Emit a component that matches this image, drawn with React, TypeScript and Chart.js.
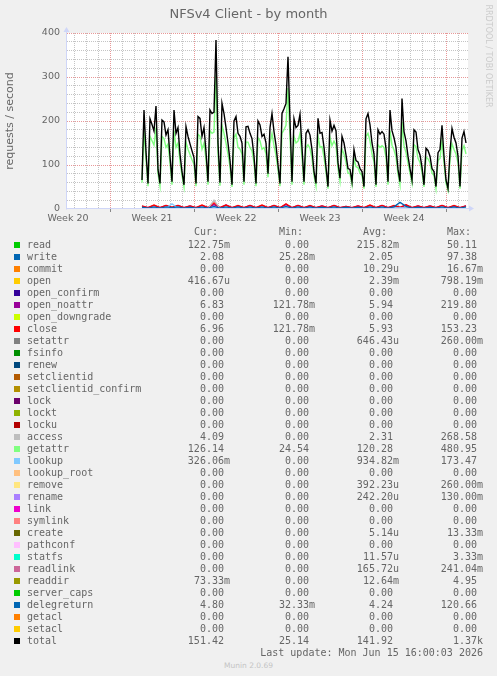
import React, { useEffect, useRef } from 'react';
import { Chart, registerables } from 'chart.js';

Chart.register(...registerables);

// ---------- text ----------
const TITLE = 'NFSv4 Client - by month';
const Y_TITLE = 'requests / second';
const WATERMARK = 'RRDTOOL / TOBI OETIKER';
const LAST_UPDATE = 'Last update: Mon Jun 15 16:00:03 2026';
const VERSION = 'Munin 2.0.69';

// ---------- time axis (hours from the left edge of the month window) ----------
const X_MAX_HOURS = 802;
const WEEK_LABELS = ['Week 20', 'Week 21', 'Week 22', 'Week 23', 'Week 24'];
const WEEK_LABEL_HOURS = [2, 170, 338, 506, 674];
const WEEK_START_HOURS = [86, 254, 422, 590, 758];
const FIRST_DAY_HOUR = 14;

// ---------- y axis ----------
const Y_MAX = 400;
const Y_STEP = 20;
const Y_LABEL_STEP = 100;

// ---------- series (4-hour samples) ----------
const MAIN_START_HOUR = 150;
const MAIN_STEP_HOURS = 4;
const total = [
  66, 225, 130, 58, 205, 192, 177, 234, 90, 58,
  202, 198, 168, 180, 120, 62, 225, 172, 185, 125,
  85, 55, 187, 165, 148, 132, 117, 58, 210, 206,
  165, 185, 130, 62, 225, 217, 220, 384, 150, 60,
  240, 217, 185, 150, 110, 55, 200, 210, 172, 165,
  150, 62, 187, 188, 172, 160, 120, 58, 200, 191,
  165, 170, 150, 80, 185, 217, 176, 145, 100, 58,
  217, 228, 240, 346, 200, 62, 205, 185, 190, 215,
  140, 62, 172, 180, 168, 135, 85, 58, 206, 172,
  174, 140, 95, 51, 202, 177, 190, 178, 105, 70,
  165, 150, 123, 92, 90, 62, 135, 110, 107, 92,
  85, 51, 205, 217, 191, 150, 125, 55, 180, 170,
  176, 170, 138, 62, 225, 178, 162, 140, 90, 62,
  251, 176, 155, 120, 92, 66, 180, 175, 135, 123,
  95, 55, 138, 133, 120, 92, 85, 51, 128, 135,
  190, 120, 66, 47, 130, 183, 163, 150, 120, 51,
  161, 176, 150,
];
const getattr = [
  60, 178, 112, 52, 165, 155, 145, 185, 80, 52,
  165, 160, 140, 148, 105, 55, 178, 140, 150, 108,
  76, 50, 152, 136, 124, 112, 102, 52, 170, 165,
  136, 150, 112, 55, 178, 172, 175, 305, 125, 53,
  190, 172, 150, 125, 96, 50, 162, 170, 140, 136,
  125, 55, 152, 152, 140, 132, 105, 52, 162, 155,
  136, 140, 125, 72, 150, 172, 144, 122, 88, 52,
  172, 180, 190, 275, 162, 55, 165, 150, 154, 172,
  118, 55, 140, 146, 138, 115, 76, 52, 166, 140,
  142, 118, 84, 46, 163, 144, 154, 145, 92, 63,
  136, 125, 106, 82, 80, 55, 115, 96, 94, 82,
  76, 46, 165, 172, 155, 125, 108, 50, 146, 140,
  144, 140, 118, 55, 178, 145, 134, 118, 80, 55,
  198, 144, 128, 105, 82, 59, 146, 142, 115, 106,
  84, 50, 118, 114, 105, 82, 76, 46, 110, 115,
  154, 105, 59, 42, 112, 148, 135, 125, 105, 46,
  133, 144, 125,
];

// ---------- small series (12-hour samples) ----------
const SMALL_START_HOUR = 150;
const SMALL_STEP_HOURS = 12;
const close = [7, 3, 9, 3, 8, 4, 8, 3, 7, 3, 9, 3, 14, 3, 9, 3, 8, 3, 8, 3, 9, 3, 8, 3, 12, 3, 8, 3, 8, 3, 7, 3, 8, 3, 6, 3, 7, 3, 9, 3, 8, 3, 8, 4, 10, 3, 7, 3, 7, 3, 8, 3, 8, 3, 7];
const openNoattr = [6, 3, 8, 3, 8, 3, 8, 3, 7, 3, 8, 3, 10, 3, 9, 3, 7, 3, 8, 3, 8, 3, 8, 3, 10, 3, 8, 3, 7, 3, 7, 3, 8, 3, 6, 3, 7, 3, 8, 3, 8, 3, 7, 3, 9, 3, 7, 3, 7, 3, 8, 3, 7, 3, 7];
const delegreturn = [4, 2, 5, 2, 5, 3, 5, 2, 4, 2, 5, 2, 6, 2, 5, 2, 5, 2, 5, 2, 5, 2, 5, 2, 6, 2, 5, 2, 5, 2, 4, 2, 5, 2, 4, 2, 4, 2, 5, 2, 5, 2, 5, 15, 6, 2, 4, 2, 4, 2, 5, 2, 5, 2, 5];
const write = [2, 1, 3, 1, 2, 1, 3, 1, 2, 1, 3, 1, 3, 1, 2, 1, 2, 1, 3, 1, 2, 1, 2, 1, 3, 1, 2, 1, 2, 1, 2, 1, 2, 1, 2, 1, 2, 1, 3, 1, 2, 1, 2, 1, 3, 1, 2, 1, 2, 1, 2, 1, 2, 1, 2];
const access = [2, 1, 3, 1, 3, 1, 3, 1, 3, 1, 3, 1, 20, 1, 3, 1, 3, 1, 3, 1, 3, 1, 3, 1, 4, 1, 3, 1, 3, 1, 3, 1, 3, 1, 2, 1, 3, 1, 3, 1, 3, 1, 3, 1, 3, 1, 3, 1, 3, 1, 3, 1, 3, 1, 3];
const lookup = [1, 0.3, 1.5, 0.3, 1.5, 12, 1.5, 0.3, 1.5, 0.3, 1.5, 0.3, 4, 0.3, 1.5, 0.3, 1.5, 0.3, 1.5, 0.3, 1.5, 0.3, 1.5, 0.3, 2, 0.3, 1.5, 0.3, 1.5, 0.3, 1.5, 0.3, 1.5, 0.3, 1.5, 0.3, 1.5, 0.3, 1.5, 0.3, 1.5, 0.3, 1.5, 3, 1.5, 0.3, 1.5, 0.3, 1.5, 0.3, 1.5, 0.3, 1.5, 0.3, 1.5];

// ---------- legend ----------
const legendNames = ['read', 'write', 'commit', 'open', 'open_confirm', 'open_noattr', 'open_downgrade', 'close', 'setattr', 'fsinfo', 'renew', 'setclientid', 'setclientid_confirm', 'lock', 'lockt', 'locku', 'access', 'getattr', 'lookup', 'lookup_root', 'remove', 'rename', 'link', 'symlink', 'create', 'pathconf', 'statfs', 'readlink', 'readdir', 'server_caps', 'delegreturn', 'getacl', 'setacl', 'total'];
const legendColors = ['#00cc00', '#0066b3', '#ff8000', '#ffcc00', '#330099', '#990099', '#ccff00', '#ff0000', '#808080', '#008f00', '#00487d', '#b35a00', '#b38f00', '#6b006b', '#8fb300', '#b30000', '#bebebe', '#80ff80', '#80c9ff', '#ffc080', '#ffe680', '#aa80ff', '#ee00cc', '#ff8080', '#666600', '#ffbfff', '#00ffcc', '#cc6699', '#999900', '#00cc00', '#0066b3', '#ff8000', '#ffcc00', '#000000'];
const legendCur = ['122.75m', '2.08', '0.00', '416.67u', '0.00', '6.83', '0.00', '6.96', '0.00', '0.00', '0.00', '0.00', '0.00', '0.00', '0.00', '0.00', '4.09', '126.14', '326.06m', '0.00', '0.00', '0.00', '0.00', '0.00', '0.00', '0.00', '0.00', '0.00', '73.33m', '0.00', '4.80', '0.00', '0.00', '151.42'];
const legendMin = ['0.00', '25.28m', '0.00', '0.00', '0.00', '121.78m', '0.00', '121.78m', '0.00', '0.00', '0.00', '0.00', '0.00', '0.00', '0.00', '0.00', '0.00', '24.54', '0.00', '0.00', '0.00', '0.00', '0.00', '0.00', '0.00', '0.00', '0.00', '0.00', '0.00', '0.00', '32.33m', '0.00', '0.00', '25.14'];
const legendAvg = ['215.82m', '2.05', '10.29u', '2.39m', '0.00', '5.94', '0.00', '5.93', '646.43u', '0.00', '0.00', '0.00', '0.00', '0.00', '0.00', '0.00', '2.31', '120.28', '934.82m', '0.00', '392.23u', '242.20u', '0.00', '0.00', '5.14u', '0.00', '11.57u', '165.72u', '12.64m', '0.00', '4.24', '0.00', '0.00', '141.92'];
const legendMax = ['50.11', '97.38', '16.67m', '798.19m', '0.00', '219.80', '0.00', '153.23', '260.00m', '0.00', '0.00', '0.00', '0.00', '0.00', '0.00', '0.00', '268.58', '480.95', '173.47', '0.00', '260.00m', '130.00m', '0.00', '0.00', '13.33m', '0.00', '3.33m', '241.04m', '4.95', '0.00', '120.66', '0.00', '0.00', '1.37k'];
const legendHeaders = ['Cur:', 'Min:', 'Avg:', 'Max:'];

// ---------- styling ----------
const BG = '#f0f0f0';
const FONT_COLOR = '#666666';
const AXIS_COLOR = '#cfd6f8';
const GRID_MINOR = '#c4c4c4';
const GRID_MAJOR = '#e89898';
const W = 497;
const H = 676;
const CANVAS_H = 230;

const pts = (vals: number[], start: number, step: number) => vals.map((v, i) => ({ x: start + i * step, y: v }));

const colorOf = (name: string) => legendColors[legendNames.indexOf(name)];

const plotDecor = {
  id: 'plotDecor',
  beforeDraw(chart: any) {
    const { ctx, chartArea } = chart;
    ctx.save();
    ctx.fillStyle = '#ffffff';
    ctx.fillRect(chartArea.left, chartArea.top, chartArea.right - chartArea.left, chartArea.bottom - chartArea.top);
    ctx.restore();
  },
  afterDraw(chart: any) {
    const { ctx, chartArea } = chart;
    const { left, right, top, bottom } = chartArea;
    ctx.save();
    ctx.strokeStyle = AXIS_COLOR;
    ctx.fillStyle = AXIS_COLOR;
    ctx.lineWidth = 1;
    ctx.beginPath();
    ctx.moveTo(left - 0.5, bottom + 0.5);
    ctx.lineTo(left - 0.5, top - 2);
    ctx.moveTo(left - 1, bottom - 0.5);
    ctx.lineTo(right + 2, bottom - 0.5);
    ctx.stroke();
    ctx.beginPath();
    ctx.moveTo(left - 0.5, top - 6);
    ctx.lineTo(left - 3.5, top - 1);
    ctx.lineTo(left + 2.5, top - 1);
    ctx.closePath();
    ctx.fill();
    ctx.beginPath();
    ctx.moveTo(right + 6, bottom - 0.5);
    ctx.lineTo(right + 1, bottom - 3.5);
    ctx.lineTo(right + 1, bottom + 2.5);
    ctx.closePath();
    ctx.fill();
    ctx.restore();
  },
};

function buildXTicks() {
  const vals: number[] = [];
  for (let h = FIRST_DAY_HOUR; h < X_MAX_HOURS; h += 24) vals.push(h);
  WEEK_LABEL_HOURS.forEach((h) => vals.push(h));
  return vals.sort((a, b) => a - b).map((v) => ({ value: v }));
}

const fmtVal = (v: string) => (/[a-zA-Z]$/.test(v) ? v : v + ' ');

export default function App() {
  const canvasRef = useRef<HTMLCanvasElement>(null);

  useEffect(() => {
    document.body.style.margin = '0';
    document.body.style.background = BG;
    const canvas = canvasRef.current;
    if (!canvas) return;

    const line = (label: string, data: any[], color: string, width: number) => ({
      label,
      data,
      borderColor: color,
      backgroundColor: color,
      borderWidth: width,
      pointRadius: 0,
      tension: 0,
      fill: false,
    });

    // munin draws in legend order (later on top); chart.js draws index 0 on top
    const drawOrder = [
      line('write', pts(write, SMALL_START_HOUR, SMALL_STEP_HOURS), colorOf('write'), 1.3),
      line('open_noattr', pts(openNoattr, SMALL_START_HOUR, SMALL_STEP_HOURS), colorOf('open_noattr'), 1.3),
      line('close', pts(close, SMALL_START_HOUR, SMALL_STEP_HOURS), colorOf('close'), 1.3),
      line('access', pts(access, SMALL_START_HOUR, SMALL_STEP_HOURS), colorOf('access'), 1.3),
      line('getattr', pts(getattr, MAIN_START_HOUR, MAIN_STEP_HOURS), colorOf('getattr'), 1.4),
      line('lookup', pts(lookup, SMALL_START_HOUR, SMALL_STEP_HOURS), colorOf('lookup'), 1.3),
      line('delegreturn', pts(delegreturn, SMALL_START_HOUR, SMALL_STEP_HOURS), colorOf('delegreturn'), 1.3),
      line('total', pts(total, MAIN_START_HOUR, MAIN_STEP_HOURS), colorOf('total'), 1.4),
    ];
    const datasets = drawOrder.slice().reverse();

    const tickFont = { family: "'DejaVu Sans', sans-serif", size: 9.5 };

    const chart = new Chart(canvas, {
      type: 'line',
      data: { datasets },
      plugins: [plotDecor],
      options: {
        animation: false,
        responsive: false,
        devicePixelRatio: 1,
        layout: { padding: { left: 0, right: W - 468, top: 33, bottom: 0 } },
        plugins: { legend: { display: false }, tooltip: { enabled: false }, title: { display: false } },
        scales: {
          x: {
            type: 'linear',
            min: 0,
            max: X_MAX_HOURS,
            bounds: 'data',
            afterFit: (s: any) => { s.height = CANVAS_H - 209; },
            afterBuildTicks: (s: any) => { s.ticks = buildXTicks(); },
            border: { display: false, dash: [1, 1] },
            grid: {
              drawTicks: true,
              tickLength: 3,
              color: (c: any) => {
                const v = c.tick ? c.tick.value : -1;
                if (WEEK_LABEL_HOURS.includes(v)) return 'rgba(0,0,0,0)';
                return WEEK_START_HOURS.includes(v) ? GRID_MAJOR : GRID_MINOR;
              },
              tickColor: (c: any) => {
                const v = c.tick ? c.tick.value : -1;
                return WEEK_START_HOURS.includes(v) ? '#888888' : 'rgba(0,0,0,0)';
              },
              tickBorderDash: [],
            },
            ticks: {
              autoSkip: false,
              maxRotation: 0,
              minRotation: 0,
              padding: 1,
              color: FONT_COLOR,
              font: tickFont,
              callback: (v: any) => {
                const i = WEEK_LABEL_HOURS.indexOf(Number(v));
                return i >= 0 ? WEEK_LABELS[i] : '';
              },
            },
          },
          y: {
            type: 'linear',
            min: 0,
            max: Y_MAX,
            afterFit: (s: any) => { s.width = 67; },
            border: { display: false, dash: [1, 1] },
            grid: {
              drawTicks: true,
              tickLength: 4,
              tickColor: 'rgba(0,0,0,0)',
              color: (c: any) => {
                const v = c.tick ? c.tick.value : 0;
                if (v === 0) return 'rgba(0,0,0,0)';
                return v % Y_LABEL_STEP === 0 ? GRID_MAJOR : GRID_MINOR;
              },
            },
            ticks: {
              stepSize: Y_STEP,
              autoSkip: false,
              padding: 3,
              color: FONT_COLOR,
              font: tickFont,
              callback: (v: any) => (Number(v) % Y_LABEL_STEP === 0 ? String(v) : ''),
            },
          },
        },
      } as any,
    });
    return () => chart.destroy();
  }, []);

  const mono: React.CSSProperties = {
    position: 'absolute',
    fontFamily: "'DejaVu Sans Mono', monospace",
    fontSize: 10,
    lineHeight: '12px',
    whiteSpace: 'pre',
    color: FONT_COLOR,
  };
  const colEdges = [230, 315, 399, 483];
  const headerEdges = [218, 303, 387, 471];
  const cols = [legendCur, legendMin, legendAvg, legendMax];

  return (
    <div style={{ position: 'relative', width: W, height: H, background: BG, overflow: 'hidden', color: FONT_COLOR }}>
      <canvas ref={canvasRef} width={W} height={CANVAS_H} style={{ position: 'absolute', left: 0, top: 0, width: W, height: CANVAS_H }} />
      <div style={{ position: 'absolute', left: 0, top: 6, width: W, textAlign: 'center', fontFamily: "'DejaVu Sans', sans-serif", fontSize: 13, color: FONT_COLOR }}>{TITLE}</div>
      <div style={{ position: 'absolute', left: -90, top: 114, width: 200, height: 14, lineHeight: '14px', textAlign: 'center', fontFamily: "'DejaVu Sans', sans-serif", fontSize: 11, color: FONT_COLOR, transform: 'rotate(-90deg)', whiteSpace: 'nowrap' }}>{Y_TITLE}</div>
      <div style={{ position: 'absolute', left: 417.5, top: 51, width: 140, height: 10, lineHeight: '10px', textAlign: 'center', fontFamily: "'DejaVu Sans', sans-serif", fontSize: 8, color: '#cccccc', transform: 'rotate(90deg)', whiteSpace: 'nowrap' }}>{WATERMARK}</div>

      {legendHeaders.map((h, j) => (
        <div key={h} style={{ ...mono, right: W - headerEdges[j], top: 226 }}>{h}</div>
      ))}
      {legendNames.map((n, i) => {
        const top = 239 + 12 * i;
        return (
          <React.Fragment key={n}>
            <div style={{ position: 'absolute', left: 14, top: 242 + 12 * i, width: 6, height: 6, background: legendColors[i] }} />
            <div style={{ ...mono, left: 27, top }}>{n}</div>
            {cols.map((c, j) => (
              <div key={j} style={{ ...mono, right: W - colEdges[j], top }}>{fmtVal(c[i])}</div>
            ))}
          </React.Fragment>
        );
      })}
      <div style={{ ...mono, right: W - 483, top: 647 }}>{LAST_UPDATE}</div>
      <div style={{ position: 'absolute', left: 0, width: W, top: 661, textAlign: 'center', fontFamily: "'DejaVu Sans', sans-serif", fontSize: 7.5, color: '#c4c4c4' }}>{VERSION}</div>
    </div>
  );
}
